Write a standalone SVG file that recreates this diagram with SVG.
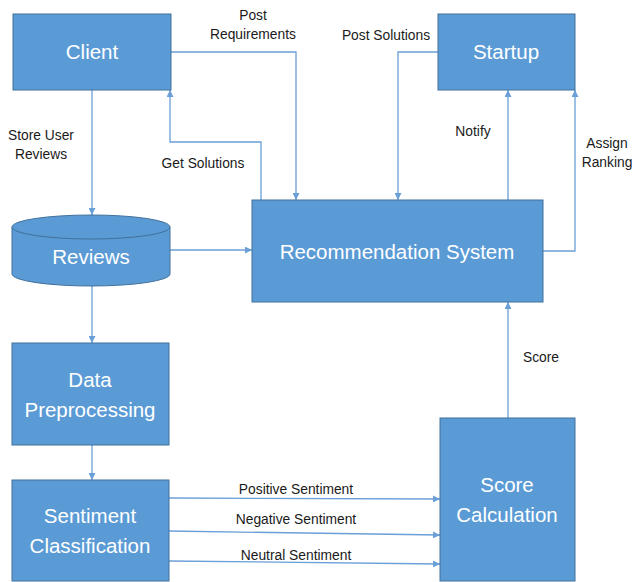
<svg xmlns="http://www.w3.org/2000/svg" width="632" height="582" viewBox="0 0 632 582">
  <style>
    .node { fill: #5B9BD5; stroke: #41719C; stroke-width: 1; }
    .nlabel { fill: #FFFFFF; font-family: "Liberation Sans", Arial, sans-serif; font-size: 20.5px; text-anchor: middle; }
    .elabel { fill: #1a1a1a; font-family: "Liberation Sans", Arial, sans-serif; font-size: 13.8px; text-anchor: middle; }
    .conn { fill: none; stroke: #6A9FD8; stroke-width: 1.3; }
    .arrow { marker-end: url(#head); }
  </style>
  <defs>
    <marker id="head" viewBox="0 0 10 10" refX="10" refY="5" markerWidth="7" markerHeight="7" markerUnits="userSpaceOnUse" orient="auto">
      <path d="M0,0 L10,5 L0,10 z" fill="#6A9FD8"/>
    </marker>
  </defs>
  <rect width="632" height="582" fill="#FFFFFF"/>

  <!-- connectors -->
  <g id="connectors">
    <path class="conn arrow" d="M92,90 V215"/>
    <path class="conn arrow" d="M171,52 H296 V200"/>
    <path class="conn arrow" d="M261,200 V142 H170 V90"/>
    <path class="conn arrow" d="M438,52 H398 V200"/>
    <path class="conn arrow" d="M508,200 V90"/>
    <path class="conn arrow" d="M543,251 H575 V90"/>
    <path class="conn arrow" d="M170,250 H252"/>
    <path class="conn arrow" d="M92,286 V343"/>
    <path class="conn arrow" d="M92,445 V480"/>
    <path class="conn arrow" d="M508,418 V302"/>
    <path class="conn arrow" d="M169,498 L440,499"/>
    <path class="conn arrow" d="M169,531 L440,535"/>
    <path class="conn arrow" d="M169,561 L440,564"/>

    <text class="elabel" x="253" y="20">Post</text>
    <text class="elabel" x="253" y="39">Requirements</text>
    <text class="elabel" x="386" y="40">Post Solutions</text>
    <text class="elabel" x="41" y="140">Store User</text>
    <text class="elabel" x="41" y="159">Reviews</text>
    <text class="elabel" x="203" y="168">Get Solutions</text>
    <text class="elabel" x="473" y="136">Notify</text>
    <text class="elabel" x="607" y="148">Assign</text>
    <text class="elabel" x="607" y="167">Ranking</text>
    <text class="elabel" x="541" y="362">Score</text>
    <text class="elabel" x="296" y="494">Positive Sentiment</text>
    <text class="elabel" x="296" y="524">Negative Sentiment</text>
    <text class="elabel" x="296" y="560">Neutral Sentiment</text>
  </g>

  <g id="client">
    <rect class="node" x="13" y="14" width="158" height="76"/>
    <text class="nlabel" x="92" y="59">Client</text>
  </g>

  <g id="startup">
    <rect class="node" x="438" y="14" width="137" height="76"/>
    <text class="nlabel" x="506" y="59">Startup</text>
  </g>

  <g id="recommendation-system">
    <rect class="node" x="252" y="200" width="291" height="102"/>
    <text class="nlabel" x="397" y="259">Recommendation System</text>
  </g>

  <g id="reviews">
    <path class="node" d="M12,227 A79,12 0 0 1 170,227 V274 A79,12 0 0 1 12,274 Z"/>
    <path class="node" d="M12,227 A79,12 0 0 0 170,227"/>
    <text class="nlabel" x="91" y="264">Reviews</text>
  </g>

  <g id="data-preprocessing">
    <rect class="node" x="12" y="343" width="157" height="102"/>
    <text class="nlabel" x="90" y="387">Data</text>
    <text class="nlabel" x="90" y="417">Preprocessing</text>
  </g>

  <g id="sentiment-classification">
    <rect class="node" x="12" y="480" width="157" height="101"/>
    <text class="nlabel" x="90" y="523">Sentiment</text>
    <text class="nlabel" x="90" y="553">Classification</text>
  </g>

  <g id="score-calculation">
    <rect class="node" x="440" y="418" width="135" height="163"/>
    <text class="nlabel" x="507" y="492">Score</text>
    <text class="nlabel" x="507" y="522">Calculation</text>
  </g>
</svg>
